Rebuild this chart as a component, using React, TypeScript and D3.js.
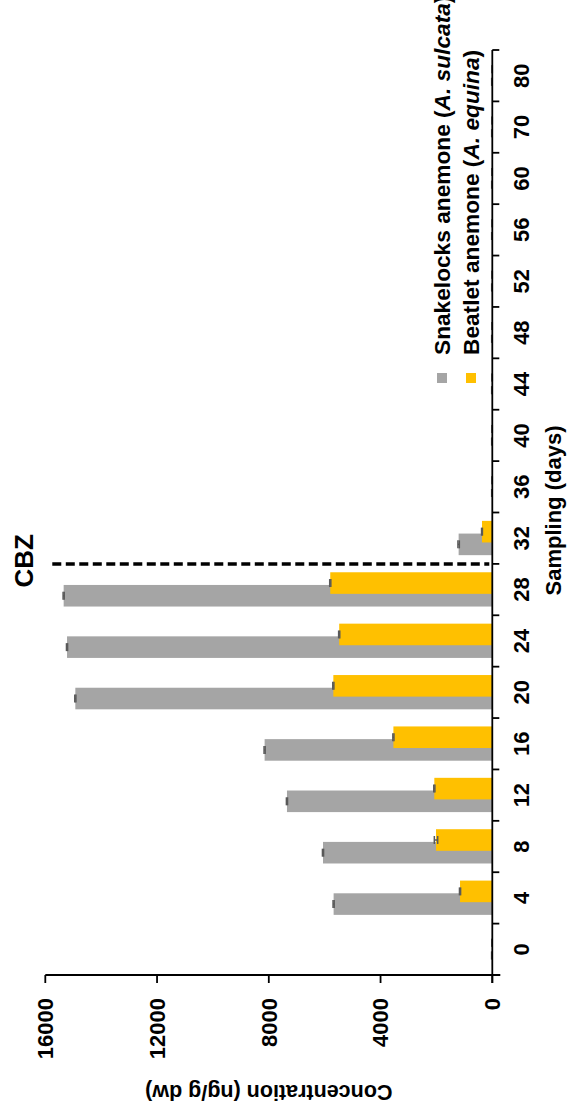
import React from "react";
import * as d3 from "d3";

const days = ["0", "4", "8", "12", "16", "20", "24", "28", "32", "36", "40", "44", "48", "52", "56", "60", "70", "80"];
const snakelocks = [15, 5680, 6060, 7350, 8150, 14925, 15222, 15343, 1205, 12, 12, 12, 12, 12, 12, 12, 12, 12];
const snakelocksErr = [10, 20, 20, 20, 20, 20, 20, 20, 25, 10, 10, 10, 10, 10, 10, 10, 10, 10];
const beadlet = [8, 1155, 2015, 2075, 3540, 5690, 5480, 5800, 369, 5, 5, 5, 5, 5, 5, 5, 5, 5];
const beadletErr = [5, 20, 60, 20, 20, 20, 20, 20, 15, 5, 5, 5, 5, 5, 5, 5, 5, 5];
const valueTicks = [0, 4000, 8000, 12000, 16000];
const seriesNames = ["Snakelocks anemone (", "Beatlet anemone ("];
const seriesItalic = ["A. sulcata", "A. equina"];
const markerDay = "32";
const markerLabel = "CBZ";
const markerTop = 15750;

const GRAY = "#A5A5A5";
const YELLOW = "#FFC000";
const ERR = "#595959";
const FONT = "'Liberation Sans', Arial, sans-serif";

export default function App() {
  const W = 569, H = 1108;
  const axisX = 492.3;
  const topY = 50;
  const botY = 975;
  const val = d3.scaleLinear().domain([0, 16000]).range([axisX, 45.3]);
  const band = d3.scaleBand().domain([...days].reverse()).range([topY, botY]).paddingInner(0).paddingOuter(0);
  const bw = band.bandwidth();
  const barW = bw * 0.42;
  const yellowOff = bw * 0.163;
  const grayOff = bw * 0.41;

  const series = [
    { vals: snakelocks, err: snakelocksErr, color: GRAY, off: grayOff },
    { vals: beadlet, err: beadletErr, color: YELLOW, off: yellowOff },
  ];

  const markerY = band(markerDay)! + bw;
  const boundaries = days.map((d) => band(d)!).concat([botY]);
  const cap = 4;

  return (
    <svg width={W} height={H} style={{ position: "absolute", left: 0, top: 0, background: "#fff" }} fontFamily={FONT}>
      {/* bars */}
      {series.map((s, si) => (
        <g key={si}>
          {days.map((d, i) => (
            <rect key={d} x={val(s.vals[i])} y={band(d)! + s.off} width={axisX - val(s.vals[i])} height={barW} fill={s.color} />
          ))}
        </g>
      ))}
      {/* error bars */}
      {series.map((s, si) => (
        <g key={"e" + si} stroke={ERR} strokeWidth={1.5}>
          {days.map((d, i) => {
            const cy = band(d)! + s.off + barW / 2;
            const x1 = val(s.vals[i] + s.err[i]);
            const x2 = val(Math.max(0, s.vals[i] - s.err[i]));
            return (
              <g key={d}>
                <line x1={x1} x2={x2} y1={cy} y2={cy} />
                <line x1={x1} x2={x1} y1={cy - cap} y2={cy + cap} />
                <line x1={x2} x2={x2} y1={cy - cap} y2={cy + cap} />
              </g>
            );
          })}
        </g>
      ))}
      {/* dashed marker */}
      <line x1={val(markerTop)} x2={axisX - 3} y1={markerY} y2={markerY} stroke="#000" strokeWidth={3.5} strokeDasharray="9,4.5" />
      <text transform={`translate(33,${markerY - 3}) rotate(-90)`} textAnchor="middle" fontSize={26} fontWeight="bold">{markerLabel}</text>

      {/* category axis */}
      <line x1={axisX} x2={axisX} y1={topY} y2={botY + 8} stroke="#000" strokeWidth={1.8} />
      {boundaries.map((y, i) => (
        <line key={i} x1={axisX} x2={axisX + 7} y1={y} y2={y} stroke="#000" strokeWidth={1.8} />
      ))}
      {days.map((d) => (
        <text key={d} transform={`translate(521,${band(d)! + bw / 2}) rotate(-90)`} textAnchor="middle" dy="0.36em" fontSize={22} fontWeight="bold">{d}</text>
      ))}
      <text transform={`translate(560.5,${(topY + botY) / 2 - 2}) rotate(-90)`} textAnchor="middle" fontSize={22} fontWeight="bold">Sampling (days)</text>

      {/* value axis */}
      <line x1={val(16000)} x2={axisX + 8} y1={botY} y2={botY} stroke="#000" strokeWidth={1.8} />
      {valueTicks.map((t) => (
        <g key={t}>
          <line x1={val(t)} x2={val(t)} y1={botY} y2={botY + 8} stroke="#000" strokeWidth={1.8} />
          <text transform={`translate(${val(t)},998) rotate(-90)`} textAnchor="end" dy="0.36em" fontSize={22} fontWeight="bold">{t}</text>
        </g>
      ))}
      <text transform={`translate(${(val(0) + val(16000)) / 2},1085) rotate(180)`} textAnchor="middle" fontSize={21.5} fontWeight="bold">Concentration (ng/g dw)</text>

      {/* legend */}
      {[GRAY, YELLOW].map((c, i) => {
        const cx = 442 + i * 29;
        return (
          <g key={i}>
            <rect x={cx - 5} y={373} width={10} height={10} fill={c} />
            <text transform={`translate(${cx},355) rotate(-90)`} dy="0.36em" fontSize={22.7} fontWeight="bold">
              {seriesNames[i]}
              <tspan fontStyle="italic">{seriesItalic[i]}</tspan>)
            </text>
          </g>
        );
      })}
    </svg>
  );
}
